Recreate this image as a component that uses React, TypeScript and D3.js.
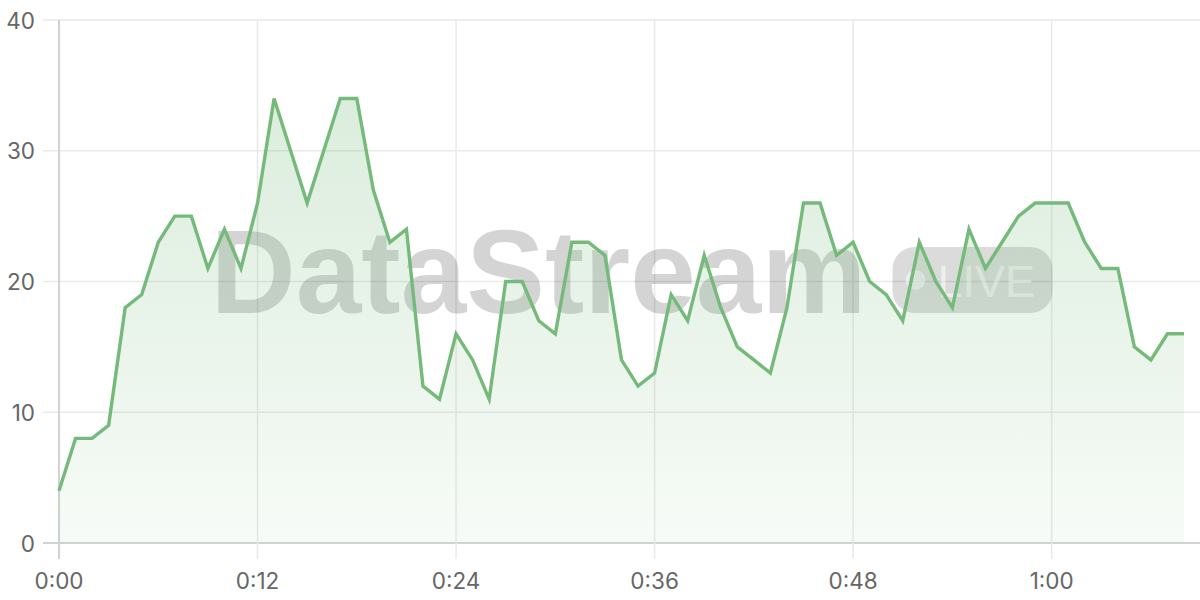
import React from "react";
import * as d3 from "d3";

const timeMinutes = [
  0, 1, 2, 3, 4, 5, 6, 7, 8, 9, 10, 11, 12, 13, 14, 15, 16, 17, 18, 19, 20, 21, 22, 23,
  24, 25, 26, 27, 28, 29, 30, 31, 32, 33, 34, 35, 36, 37, 38, 39, 40, 41, 42, 43, 44, 45,
  46, 47, 48, 49, 50, 51, 52, 53, 54, 55, 56, 57, 58, 59, 60, 61, 62, 63, 64, 65, 66, 67, 68,
];
const values = [
  4, 8, 8, 9, 18, 19, 23, 25, 25, 21, 24, 21, 26, 34, 30, 26, 30, 34, 34, 27, 23, 24, 12,
  11, 16, 14, 11, 20, 20, 17, 16, 23, 23, 22, 14, 12, 13, 19, 17, 22, 18, 15, 14, 13, 18,
  26, 26, 22, 23, 20, 19, 17, 23, 20, 18, 24, 21, 23, 25, 26, 26, 26, 23, 21, 21, 15, 14,
  16, 16,
];
const xTickMinutes = [0, 12, 24, 36, 48, 60];
const xTickLabels = ["0:00", "0:12", "0:24", "0:36", "0:48", "1:00"];
const yTicks = [0, 10, 20, 30, 40];

const W = 1200;
const H = 600;
const left = 59;
const right = 1184;
const top = 20;
const bottom = 543;
const gridRight = 1200;
const tickLen = 16;

const LINE = "#76ba7b";
const GRID = "#e9e9e9";
const AXIS = "#d2d2d2";
const LABEL = "#666666";
const FONT = "Inter, 'Liberation Sans', Arial, sans-serif";

export default function App() {
  const x = d3.scaleLinear().domain([0, 68]).range([left, right]);
  const y = d3.scaleLinear().domain([0, 40]).range([bottom, top]);
  const pts = timeMinutes.map((t, i) => [t, values[i]] as [number, number]);
  const line = d3
    .line<[number, number]>()
    .x((d) => x(d[0]))
    .y((d) => y(d[1]));
  const area = d3
    .area<[number, number]>()
    .x((d) => x(d[0]))
    .y0(y(0))
    .y1((d) => y(d[1]));

  const cx = (left + right) / 2;

  return (
    <svg
      width={W}
      height={H}
      style={{ position: "fixed", left: 0, top: 0, background: "#fff" }}
    >
      <defs>
        <linearGradient id="fillGrad" x1="0" y1={top} x2="0" y2={bottom} gradientUnits="userSpaceOnUse">
          <stop offset="0%" stopColor={LINE} stopOpacity={0.3} />
          <stop offset="100%" stopColor={LINE} stopOpacity={0.06} />
        </linearGradient>
      </defs>
      {yTicks.map((v) => (
        <line
          key={"h" + v}
          x1={left - tickLen}
          x2={gridRight}
          y1={y(v)}
          y2={y(v)}
          stroke={v === 0 ? AXIS : GRID}
          strokeWidth={v === 0 ? 2 : 1.5}
        />
      ))}
      {xTickMinutes.map((t) => (
        <line
          key={"v" + t}
          x1={x(t)}
          x2={x(t)}
          y1={top}
          y2={bottom + tickLen}
          stroke={t === 0 ? AXIS : GRID}
          strokeWidth={t === 0 ? 2 : 1.5}
        />
      ))}
      <g>
        <text
          x={cx - 411}
          y={313}
          fontFamily="'Liberation Sans', Arial, sans-serif"
          fontWeight="bold"
          fontSize={118}
          fill="rgba(0,0,0,0.17)"
        >
          DataStream
        </text>
        <rect x={cx + 271} y={247} width={160} height={66} rx={22} fill="rgba(0,0,0,0.14)" />
        <circle cx={cx + 294} cy={280} r={10} fill="rgba(255,255,255,0.5)" />
        <text
          x={cx + 316}
          y={297}
          fontFamily="'Liberation Sans', Arial, sans-serif"
          fontSize={45}
          fill="rgba(255,255,255,0.55)"
        >
          LIVE
        </text>
      </g>
      <path d={area(pts) || ""} fill="url(#fillGrad)" />
      <path d={line(pts) || ""} fill="none" stroke={LINE} strokeWidth={3.4} strokeLinejoin="miter" />
      {yTicks.map((v) => (
        <text
          key={"yl" + v}
          x={35}
          y={y(v)}
          textAnchor="end"
          dominantBaseline="central"
          fontFamily={FONT}
          fontSize={22.5}
          fill={LABEL}
        >
          {v}
        </text>
      ))}
      {xTickMinutes.map((t, i) => (
        <text
          key={"xl" + t}
          x={x(t)}
          y={580}
          textAnchor="middle"
          dominantBaseline="central"
          fontFamily={FONT}
          fontSize={22.5}
          fill={LABEL}
        >
          {xTickLabels[i]}
        </text>
      ))}
    </svg>
  );
}
